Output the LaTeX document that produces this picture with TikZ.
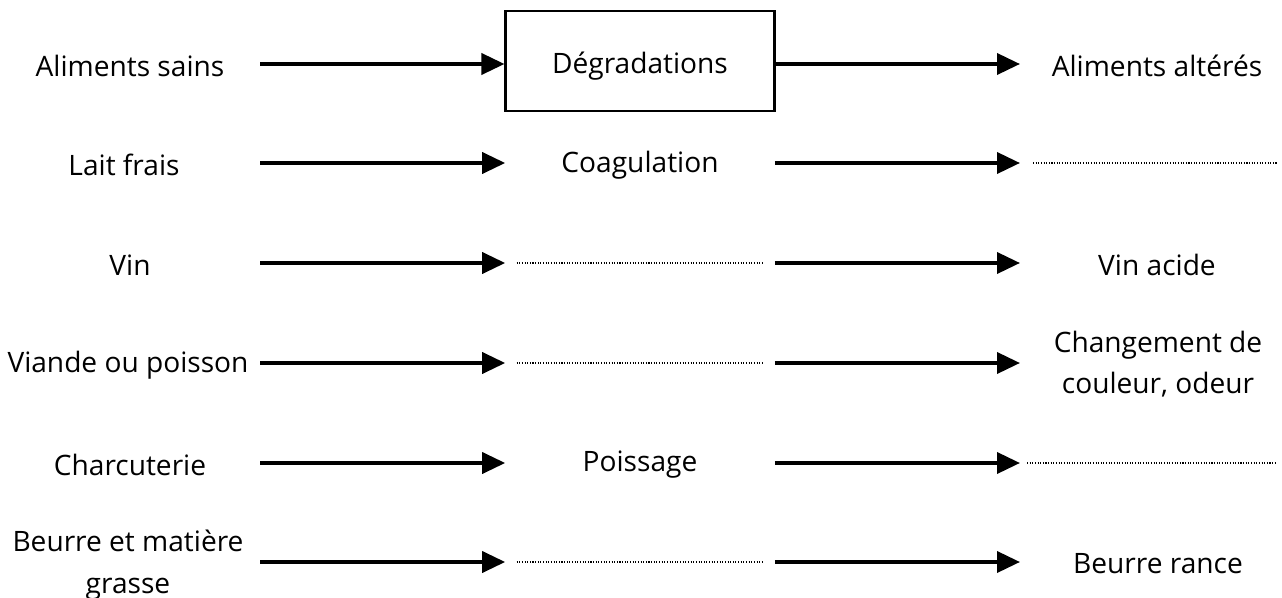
\documentclass[tikz,border=0pt]{standalone}
\usepackage{fontspec}
\setmainfont{Open Sans}
\usetikzlibrary{arrows.meta}
\usetikzlibrary{positioning}

\tikzset{
  flow/.style={line width=2.1pt,-{Triangle[length=4.6mm,width=4.2mm]}},
  lbl/.style={font=\fontsize{16}{23.5}\selectfont,align=center,inner sep=0pt},
  mid/.style={lbl,minimum width=5.38cm,minimum height=2cm},
  blank/.style={line width=1pt,dash pattern=on 0.6pt off 0.9pt},
}

\begin{document}
\begin{tikzpicture}[x=0.02cm,y=-0.02cm]
\useasboundingbox (0,0) rectangle (1282,598);

%row 1
\node[lbl] (in1) at (130,66) {Aliments sains};
\node[mid,draw,line width=1.2pt] (m1) at (640,61) {};
\node[lbl] (t1) at (640,66) {Dégradations};
\node[lbl] (out1) at (1157,66) {Aliments altérés};
\coordinate (s1) at (260,64);
\coordinate (e1) at (1020,64);
\draw[flow] (s1) -- (s1-|m1.west);
\draw[flow] (s1-|m1.east) -- (e1);

%row 2
\node[lbl] (in2) at (124,165) {Lait frais};
\node[mid] (m2) at (640,165) {Coagulation};
\coordinate (s2) at (260,163);
\coordinate (e2) at (1020,163);
\coordinate (d2) at (1277,163);
\draw[flow] (s2) -- (s2-|m2.west);
\draw[flow] (s2-|m2.east) -- (e2);
\draw[blank] ([xshift=0.26cm]e2) -- (d2);

%row 3
\node[lbl] (in3) at (130,265) {Vin};
\node[mid] (m3) at (640,263) {};
\node[lbl] (out3) at (1157,265) {Vin acide};
\coordinate (s3) at (260,263);
\coordinate (e3) at (1020,263);
\draw[flow] (s3) -- (m3);
\draw[flow] (m3) -- (e3);
\draw[blank] ([xshift=0.23cm]m3.west) -- ([xshift=-0.23cm]m3.east);

%row 4
\node[lbl] (in4) at (128,365) {Viande ou poisson};
\node[mid] (m4) at (640,363) {};
\node[lbl] (out4) at (1158,364) {Changement de\\couleur, odeur};
\coordinate (s4) at (260,363);
\coordinate (e4) at (1020,363);
\draw[flow] (s4) -- (m4);
\draw[flow] (m4) -- (e4);
\draw[blank] ([xshift=0.23cm]m4.west) -- ([xshift=-0.23cm]m4.east);

%row 5
\node[lbl] (in5) at (130,465) {Charcuterie};
\node[mid] (m5) at (640,465) {Poissage};
\coordinate (s5) at (260,463);
\coordinate (e5) at (1020,463);
\coordinate (d5) at (1277,463);
\draw[flow] (s5) -- (s5-|m5.west);
\draw[flow] (s5-|m5.east) -- (e5);
\draw[blank] ([xshift=0.14cm]e5) -- (d5);

%row 6
\node[lbl] (in6) at (128,565) {Beurre et matière\\grasse};
\node[mid] (m6) at (640,562) {};
\node[lbl] (out6) at (1158,564) {Beurre rance};
\coordinate (s6) at (260,562);
\coordinate (e6) at (1020,562);
\draw[flow] (s6) -- (m6);
\draw[flow] (m6) -- (e6);
\draw[blank] ([xshift=0.23cm]m6.west) -- ([xshift=-0.23cm]m6.east);
\end{tikzpicture}
\end{document}
